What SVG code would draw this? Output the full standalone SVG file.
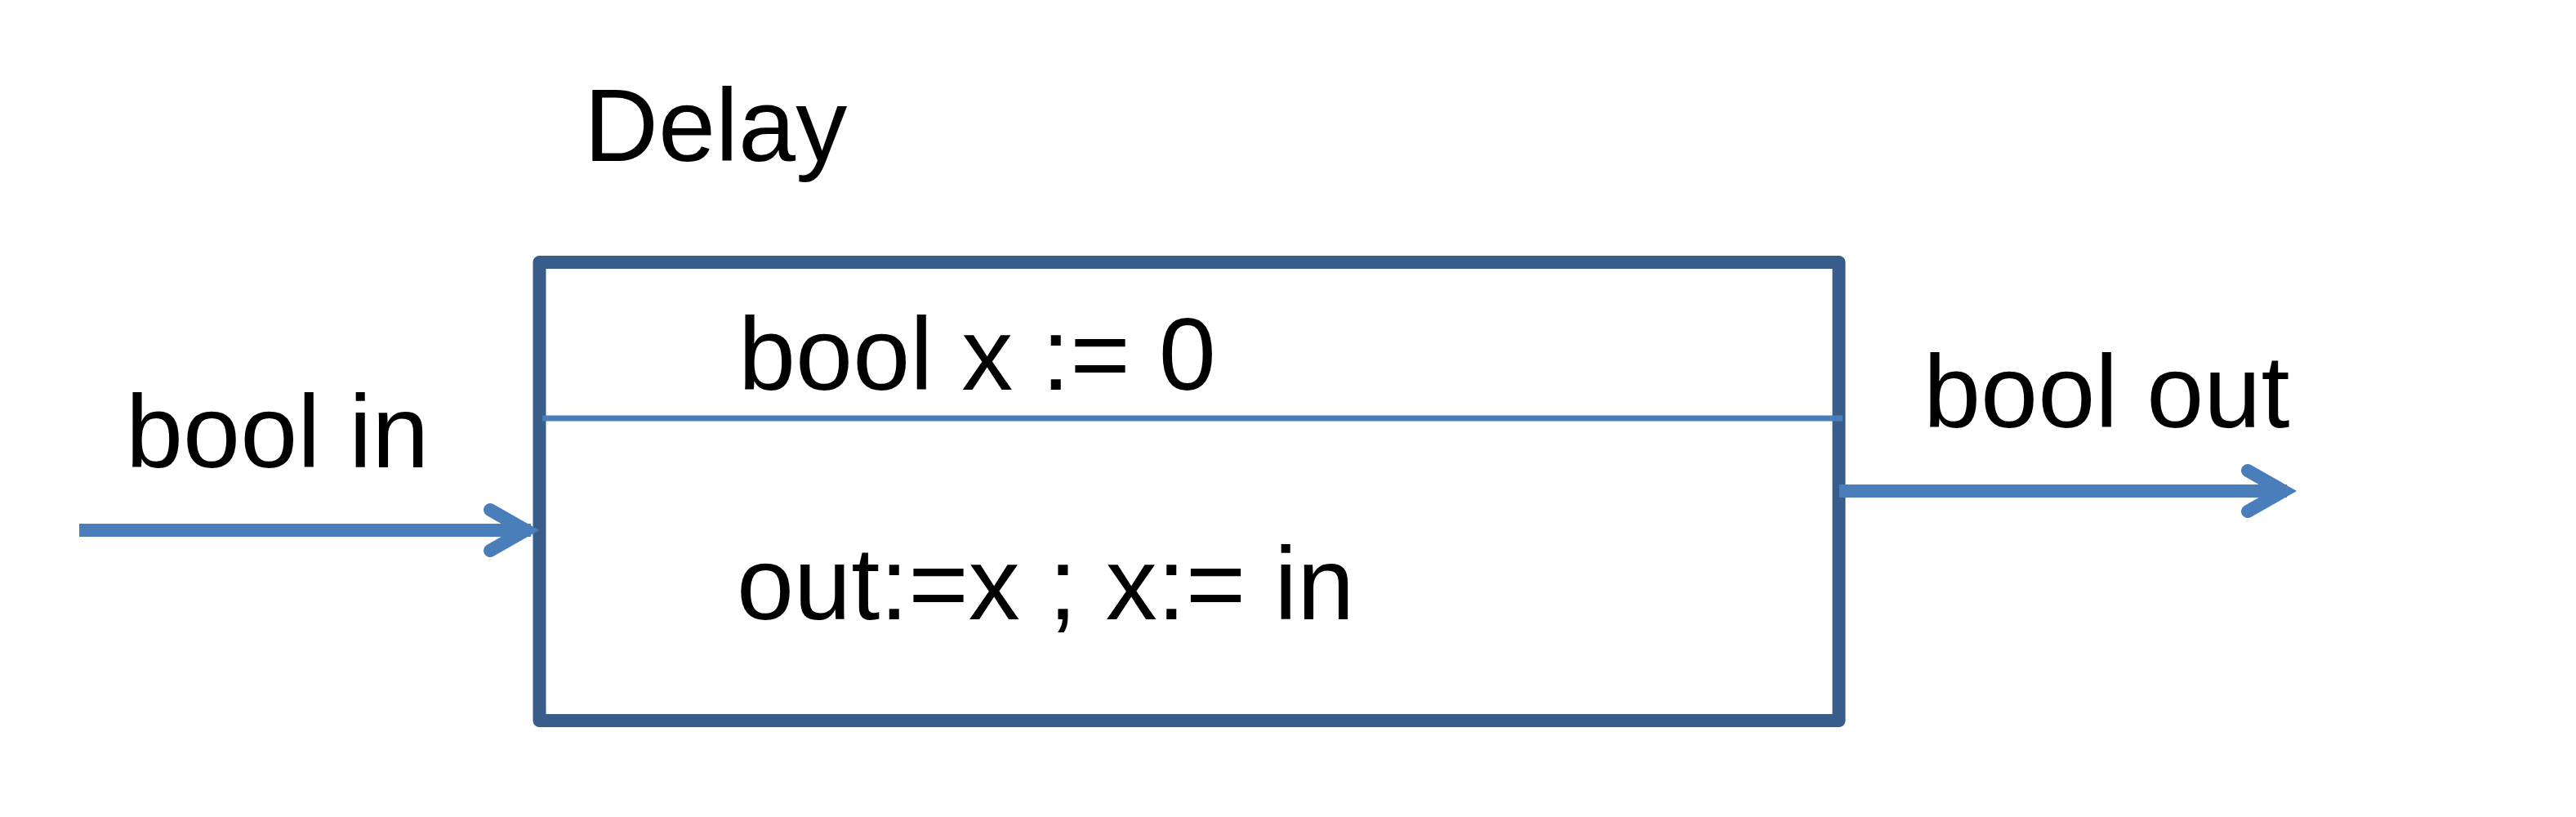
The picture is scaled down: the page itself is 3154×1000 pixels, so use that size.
<svg xmlns="http://www.w3.org/2000/svg" width="3154" height="1000" viewBox="0 0 3154 1000">
<style>
.t{font-family:"Liberation Sans",Arial,sans-serif;font-size:126px;fill:#000}
.box{fill:#fff;stroke:#385d8a;stroke-width:16;stroke-linejoin:round}
.div{stroke:#4a7ebb;stroke-width:7}
.wire{fill:none;stroke:#4a7ebb;stroke-width:16}
.head{fill:none;stroke:#4a7ebb;stroke-width:16;stroke-linecap:round;stroke-linejoin:miter;stroke-miterlimit:10}
</style>
<rect width="3154" height="1000" fill="#fff"/>
<g id="delay">
<rect class="box" x="660.5" y="321" width="1591" height="561"/>
<line class="div" x1="664" y1="512" x2="2256" y2="512"/>
<text class="t" x="715" y="197">Delay</text>
<text class="t" x="904" y="477">bool x := 0</text>
<text class="t" x="902" y="758">out:=x ; x:= in</text>
</g>
<g id="label-in"><text class="t" x="154" y="572">bool in</text></g>
<g id="label-out"><text class="t" x="2355" y="523">bool out</text></g>
<g id="connectors">
<line class="wire" x1="97" y1="649" x2="650" y2="649"/>
<polyline class="head" points="600,624 644,649 600,674"/>
<line class="wire" x1="2252" y1="601" x2="2800" y2="601"/>
<polyline class="head" points="2752,576 2796,601 2752,626"/>
</g>
</svg>
